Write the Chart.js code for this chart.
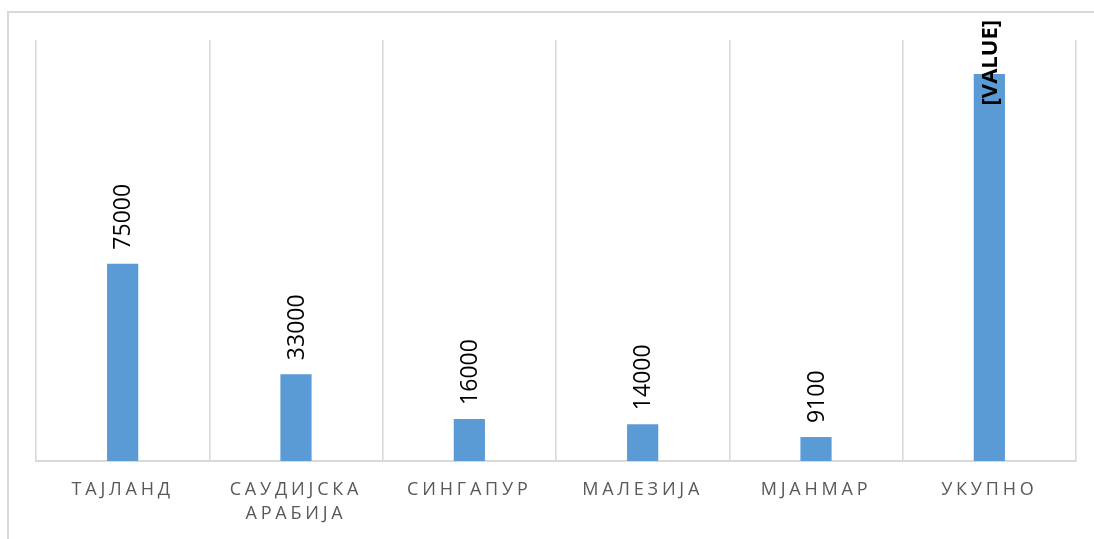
<!DOCTYPE html>
<html><head><meta charset="utf-8">
<script src="https://cdn.jsdelivr.net/npm/chart.js@4/dist/chart.umd.min.js"></script>
<style>
html,body{margin:0;padding:0;background:#fff;overflow:hidden;}
#frame{position:absolute;left:7px;top:11px;width:1110px;height:560px;border:2px solid #d9d9d9;box-sizing:border-box;}
#wrap{position:absolute;left:0;top:0;width:1094px;height:539px;}
</style></head>
<body>
<div id="frame"></div>
<div id="wrap"><canvas id="c" width="1094" height="539"></canvas></div>
<script>
const categories = ['ТАЈЛАНД', ['САУДИЈСКА', 'АРАБИЈА'], 'СИНГАПУР', 'МАЛЕЗИЈА', 'МЈАНМАР', 'УКУПНО'];
const values = [75000, 33000, 16000, 14000, 9100, 147100];
const valueLabels = ['75000', '33000', '16000', '14000', '9100', '[VALUE]'];
const boldLabels = [false, false, false, false, false, true];

const labelPlugin = {
  id: 'vlabels',
  beforeInit(chart) { chart.ctx.letterSpacing = '3.8px'; },
  beforeDraw(chart) { chart.ctx.letterSpacing = '3.8px'; },
  afterDatasetsDraw(chart) {
    const ctx = chart.ctx;
    const meta = chart.getDatasetMeta(0);
    meta.data.forEach((bar, i) => {
      ctx.save();
      ctx.letterSpacing = '0px';
      ctx.font = (boldLabels[i] ? 'bold ' : '') + (boldLabels[i] ? '22px' : '23px') + ' "Open Sans"';
      ctx.fillStyle = '#000';
      const w = ctx.measureText(valueLabels[i]).width;
      let start = bar.y - 14;
      if (start - w < 20) start = 20 + w;
      ctx.translate(bar.x, start);
      ctx.rotate(-Math.PI / 2);
      ctx.textAlign = 'left';
      ctx.textBaseline = 'middle';
      ctx.fillText(valueLabels[i], 0, 1);
      ctx.restore();
    });
  }
};

new Chart(document.getElementById('c'), {
  type: 'bar',
  data: {
    labels: categories,
    datasets: [{
      data: values,
      backgroundColor: '#5B9BD5',
      borderWidth: 0,
      categoryPercentage: 1,
      barPercentage: 0.18
    }]
  },
  options: {
    responsive: false,
    animation: false,
    devicePixelRatio: 1,
    layout: { padding: { left: 36, right: 18, top: 40, bottom: 12 } },
    plugins: { legend: { display: false }, tooltip: { enabled: false } },
    scales: {
      x: {
        offset: true,
        afterFit(scale) { scale.height = 66; },
        grid: { offset: true, color: '#d9d9d9', lineWidth: 1.6, drawTicks: false },
        border: { color: '#d9d9d9', width: 2 },
        ticks: {
          color: '#595959',
          font: { family: '"Open Sans"', size: 18, lineHeight: 1.33 },
          padding: 17,
          maxRotation: 0,
          autoSkip: false
        }
      },
      y: { display: false, min: 0, max: 160000 }
    }
  },
  plugins: [labelPlugin]
});
</script>
</body></html>
